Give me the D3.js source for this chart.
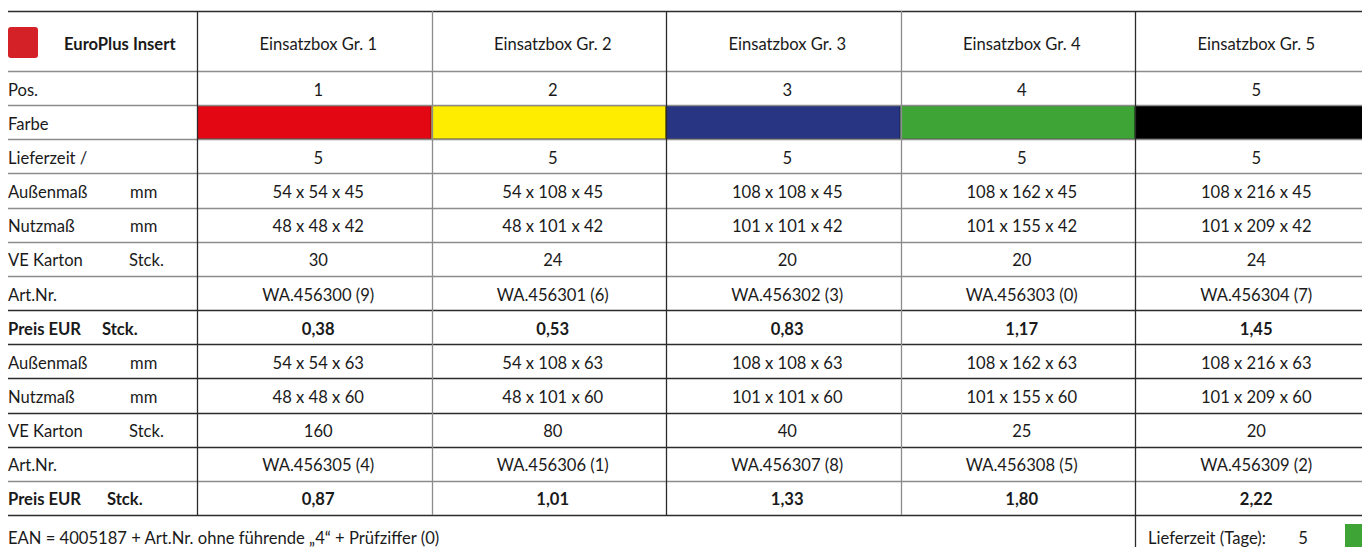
<!DOCTYPE html>
<html>
<head>
<meta charset="utf-8">
<script src="https://cdn.jsdelivr.net/npm/d3@7"></script>
<style>
  body { margin: 0; background: #fff; }
  svg { display: block; font-family: Lato, "Open Sans", sans-serif; }
</style>
</head>
<body>
<div id="chart"></div>
<script>
const columns = ["Einsatzbox Gr. 1", "Einsatzbox Gr. 2", "Einsatzbox Gr. 3", "Einsatzbox Gr. 4", "Einsatzbox Gr. 5"];
const pos = ["1", "2", "3", "4", "5"];
const farbe = ["#e30613", "#ffed00", "#283583", "#3ea435", "#000000"];
const farbeRand = ["#7a0a0c", "#8a7f00", "#161d4a", "#23621e", "#000000"];
const lieferzeit = ["5", "5", "5", "5", "5"];
const aussen45 = ["54 x 54 x 45", "54 x 108 x 45", "108 x 108 x 45", "108 x 162 x 45", "108 x 216 x 45"];
const nutz42 = ["48 x 48 x 42", "48 x 101 x 42", "101 x 101 x 42", "101 x 155 x 42", "101 x 209 x 42"];
const ve45 = ["30", "24", "20", "20", "24"];
const art45 = ["WA.456300 (9)", "WA.456301 (6)", "WA.456302 (3)", "WA.456303 (0)", "WA.456304 (7)"];
const preis45 = ["0,38", "0,53", "0,83", "1,17", "1,45"];
const aussen63 = ["54 x 54 x 63", "54 x 108 x 63", "108 x 108 x 63", "108 x 162 x 63", "108 x 216 x 63"];
const nutz60 = ["48 x 48 x 60", "48 x 101 x 60", "101 x 101 x 60", "101 x 155 x 60", "101 x 209 x 60"];
const ve63 = ["160", "80", "40", "25", "20"];
const art63 = ["WA.456305 (4)", "WA.456306 (1)", "WA.456307 (8)", "WA.456308 (5)", "WA.456309 (2)"];
const preis63 = ["0,87", "1,01", "1,33", "1,80", "2,22"];

// row label, unit, values, bold?
const rows = [
  { label: "Pos.", unit: "", values: pos },
  { label: "Farbe", unit: "", colors: farbe },
  { label: "Lieferzeit /", unit: "", values: lieferzeit },
  { label: "Außenmaß", unit: "mm", values: aussen45 },
  { label: "Nutzmaß", unit: "mm", values: nutz42 },
  { label: "VE Karton", unit: "Stck.", values: ve45 },
  { label: "Art.Nr.", unit: "", values: art45 },
  { label: "Preis EUR", unit: "Stck.", values: preis45, bold: true, unitX: 102 },
  { label: "Außenmaß", unit: "mm", values: aussen63 },
  { label: "Nutzmaß", unit: "mm", values: nutz60 },
  { label: "VE Karton", unit: "Stck.", values: ve63 },
  { label: "Art.Nr.", unit: "", values: art63 },
  { label: "Preis EUR", unit: "Stck.", values: preis63, bold: true, unitX: 107 }
];

const W = 1362, H = 547;
const tableTop = 11, headBottom = 71, tableBottom = 515, left = 8, firstCol = 197;
const grey = "#8c8c8c", dark = "#2b2b2b";
const fs = 16.6;

const svg = d3.select("#chart").append("svg")
  .attr("width", W).attr("height", H);

const x = d3.scaleBand().domain(d3.range(columns.length)).range([firstCol, 1369.5]);
const y = d3.scaleBand().domain(d3.range(rows.length)).range([headBottom, tableBottom]);
const cx = i => x(i) + x.bandwidth() / 2 + 4;
const cy = r => y(r) + y.bandwidth() / 2 + 1.5;

// colour row
const fr = rows.findIndex(r => r.colors);
svg.append("g").selectAll("rect")
  .data(farbe)
  .join("rect")
  .attr("x", (d, i) => x(i) + 0.5)
  .attr("y", y(fr) + 0.5)
  .attr("width", x.bandwidth() - 1)
  .attr("height", y.bandwidth() - 1)
  .attr("fill", d => d)
  .attr("stroke", (d, i) => farbeRand[i])
  .attr("stroke-width", 1);

// horizontal lines
const hLines = [{ y: tableTop, c: dark }, { y: headBottom, c: grey }];
rows.forEach((r, i) => {
  const yy = y(i) + y.bandwidth();
  const c = (i >= 6 && i !== 11) ? dark : grey;
  hLines.push({ y: yy, c: c });
});
svg.append("g").selectAll("line")
  .data(hLines)
  .join("line")
  .attr("x1", left).attr("x2", W)
  .attr("y1", d => Math.round(d.y) + 0.5).attr("y2", d => Math.round(d.y) + 0.5)
  .attr("stroke", d => d.c)
  .attr("stroke-width", 1.3);

// vertical lines
const vLines = d3.range(columns.length).map(i => ({ x: x(i), c: i % 2 === 0 ? dark : grey, y2: tableBottom }));
vLines[4].y2 = H;
svg.append("g").selectAll("line")
  .data(vLines)
  .join("line")
  .attr("x1", d => Math.round(d.x) + 0.5).attr("x2", d => Math.round(d.x) + 0.5)
  .attr("y1", tableTop).attr("y2", d => d.y2)
  .attr("stroke", d => d.c)
  .attr("stroke-width", 1.3);

// header
svg.append("rect")
  .attr("x", left).attr("y", 27).attr("width", 30).attr("height", 31)
  .attr("rx", 3).attr("fill", "#d42027");
svg.append("text")
  .attr("x", 64).attr("y", 44)
  .attr("dominant-baseline", "central")
  .attr("font-size", fs).attr("font-weight", "bold").attr("fill", "#1a1a1a")
  .text("EuroPlus Insert");
svg.append("g").selectAll("text")
  .data(columns)
  .join("text")
  .attr("x", (d, i) => cx(i)).attr("y", 44)
  .attr("text-anchor", "middle").attr("dominant-baseline", "central")
  .attr("font-size", fs).attr("fill", "#1a1a1a")
  .text(d => d);

// row labels
const lab = svg.append("g").selectAll("g")
  .data(rows)
  .join("g")
  .attr("font-size", fs).attr("fill", "#1a1a1a")
  .attr("font-weight", d => d.bold ? "bold" : "normal");
lab.append("text")
  .attr("x", left).attr("y", (d, i) => cy(i))
  .attr("dominant-baseline", "central")
  .text(d => d.label);
lab.append("text")
  .attr("x", d => d.unitX || (d.unit === "mm" ? 130 : 129)).attr("y", (d, i) => cy(i))
  .attr("dominant-baseline", "central")
  .text(d => d.unit);

// cell values
rows.forEach((r, ri) => {
  if (!r.values) return;
  svg.append("g").selectAll("text")
    .data(r.values)
    .join("text")
    .attr("x", (d, i) => cx(i)).attr("y", cy(ri))
    .attr("text-anchor", "middle").attr("dominant-baseline", "central")
    .attr("font-size", fs).attr("fill", "#1a1a1a")
    .attr("font-weight", r.bold ? "bold" : "normal")
    .text(d => d);
});

// footer
svg.append("text")
  .attr("x", left).attr("y", 538)
  .attr("dominant-baseline", "central")
  .attr("font-size", fs).attr("fill", "#1a1a1a")
  .text("EAN = 4005187 + Art.Nr. ohne führende „4“ + Prüfziffer (0)");
svg.append("text")
  .attr("x", 1148).attr("y", 538)
  .attr("dominant-baseline", "central")
  .attr("font-size", fs).attr("fill", "#1a1a1a")
  .text("Lieferzeit (Tage):");
svg.append("text")
  .attr("x", 1303).attr("y", 538)
  .attr("text-anchor", "middle").attr("dominant-baseline", "central")
  .attr("font-size", fs).attr("fill", "#1a1a1a")
  .text(lieferzeit[0]);
svg.append("rect")
  .attr("x", 1345).attr("y", 524).attr("width", 17).attr("height", 23)
  .attr("fill", "#3ea435");
</script>
</body>
</html>
